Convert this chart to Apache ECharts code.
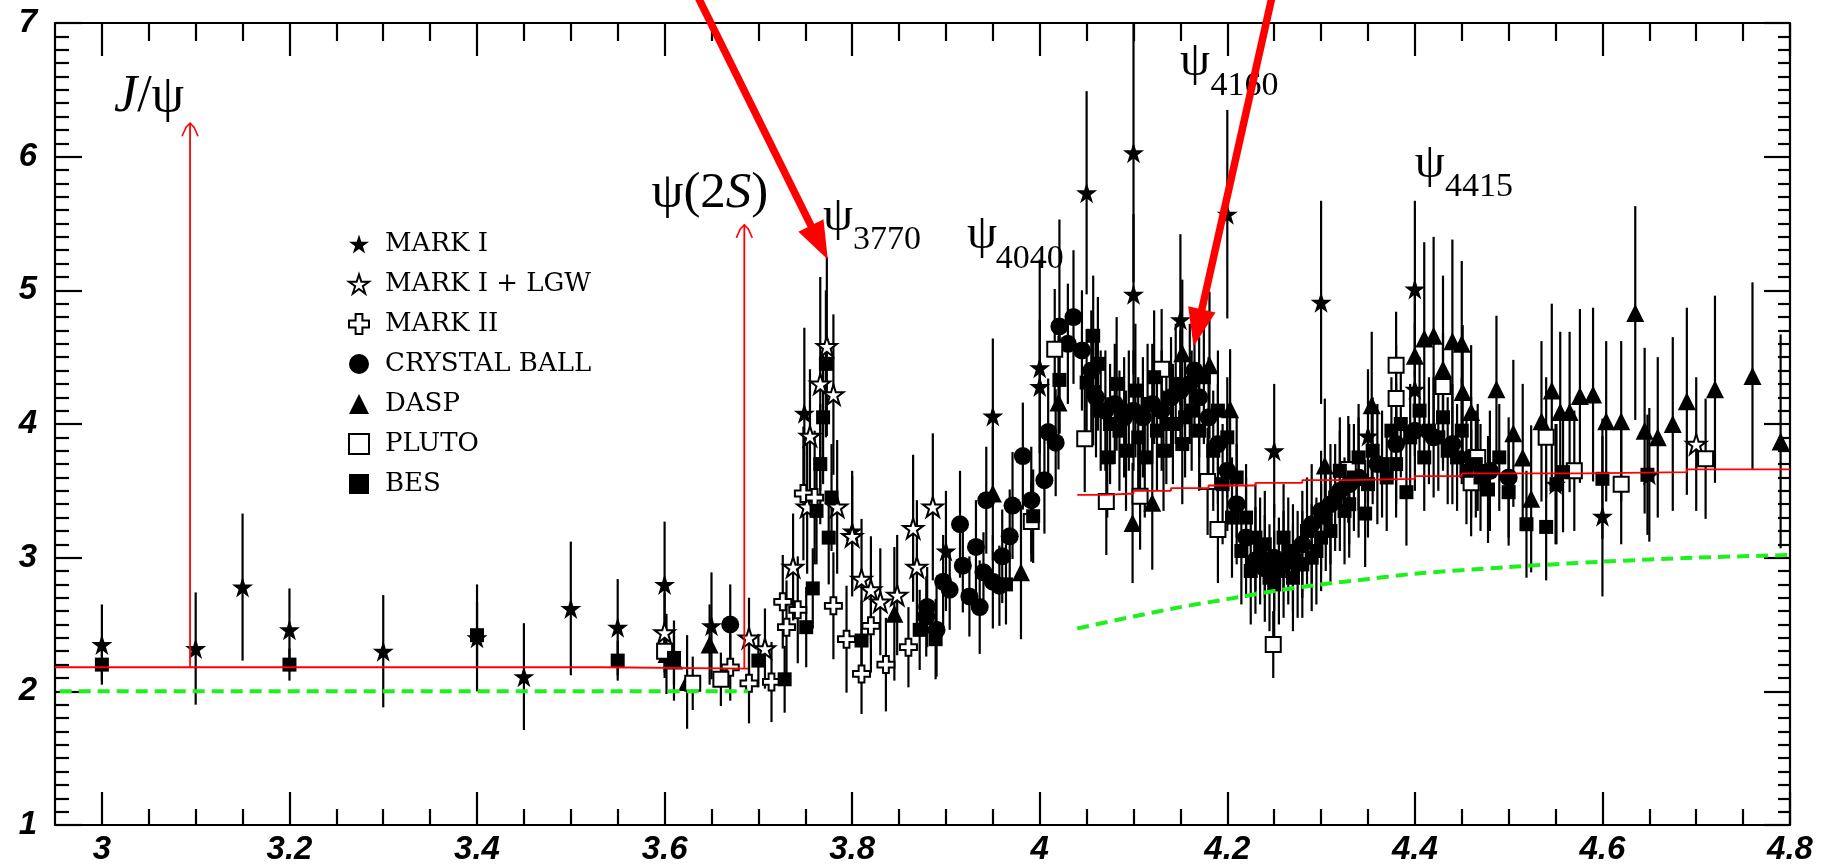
<!DOCTYPE html>
<html><head><meta charset="utf-8">
<script src="https://cdn.jsdelivr.net/npm/echarts@6/dist/echarts.min.js"></script>
<style>html,body{margin:0;padding:0;background:#fff}#c{width:1831px;height:866px}</style>
</head><body><div id="c"></div>
<script>
// ---------- data: [sqrt(s) GeV, R, error] ----------
const MARK_I = [
 [3.00,2.35,0.30],[3.10,2.32,0.42],[3.15,2.78,0.55],[3.20,2.46,0.31],[3.30,2.30,0.42],[3.40,2.40,0.40],[3.45,2.11,0.40],[3.50,2.62,0.50],[3.55,2.48,0.36],[3.60,2.80,0.47],[3.65,2.49,0.40],
 [3.749,4.08,0.64],[3.80,3.20,0.45],[3.90,3.05,0.45],[3.95,4.06,0.58],[4.00,4.42,0.81],[4.00,4.28,0.50],[4.05,5.73,0.76],[4.10,6.03,0.97],[4.10,4.97,0.60],[4.15,4.78,0.64],[4.20,5.57,0.78],[4.25,3.80,0.50],[4.30,4.91,0.76],[4.35,3.91,0.50],[4.40,5.01,0.66],[4.40,4.26,0.50],[4.55,3.55,0.45],[4.60,3.31,0.60],[4.65,3.62,0.50]
];
const MARK_I_LGW = [
 [3.60,2.44,0.30],[3.69,2.40,0.30],[3.707,2.32,0.30],[3.737,2.93,0.40],[3.752,3.38,0.50],[3.755,3.91,0.50],[3.766,4.30,0.80],[3.773,4.58,0.67],[3.78,4.22,0.60],[3.784,3.38,0.50],[3.80,3.16,0.45],[3.81,2.84,0.45],[3.82,2.76,0.40],[3.83,2.67,0.40],[3.848,2.72,0.45],[3.865,3.22,0.55],[3.869,2.93,0.50],[3.886,3.38,0.55],[4.70,3.85,0.50]
];
const MARK_II = [
 [3.67,2.18,0.25],[3.69,2.06,0.30],[3.714,2.07,0.30],[3.726,2.67,0.35],[3.73,2.48,0.35],[3.742,2.61,0.40],[3.748,3.48,0.50],[3.76,3.45,0.50],[3.78,2.64,0.40],[3.794,2.39,0.40],[3.81,2.13,0.30],[3.82,2.49,0.35],[3.836,2.20,0.35],[3.86,2.33,0.30]
];
const CRYSTAL_BALL = [
 [3.67,2.50,0.30],
 [3.879,2.56,0.30],[3.88,2.63,0.30],[3.89,2.46,0.35],[3.897,2.82,0.35],[3.904,2.76,0.30],[3.915,3.25,0.40],[3.918,2.94,0.35],[3.925,2.71,0.30],[3.932,3.08,0.35],[3.936,2.63,0.35],[3.940,2.89,0.30],[3.943,3.43,0.40],[3.95,2.82,0.35],[3.957,2.79,0.30],[3.96,3.01,0.35],[3.968,3.16,0.35],[3.971,3.39,0.40],[3.982,3.76,0.40],[3.991,3.43,0.40],[4.005,3.58,0.40],[4.009,3.94,0.40],[4.017,3.86,0.40],[4.021,4.73,0.80],[4.03,4.60,0.45],[4.036,4.80,0.50],
 [4.045,4.55,0.45],[4.055,4.40,0.45],[4.06,4.20,0.45],[4.07,4.10,0.45],[4.08,4.15,0.45],[4.09,4.05,0.45],[4.10,4.10,0.45],[4.11,4.05,0.45],[4.12,4.15,0.45],[4.13,4.10,0.45],[4.14,4.20,0.45],[4.15,4.25,0.45],[4.16,4.30,0.45],[4.165,4.40,0.45],[4.17,4.20,0.45],[4.18,4.05,0.45],[4.19,3.85,0.45],[4.20,3.65,0.45],[4.21,3.40,0.45],[4.22,3.15,0.45],[4.23,2.98,0.40],[4.24,2.92,0.40],[4.25,3.00,0.40],[4.26,2.95,0.40],[4.27,3.00,0.40],[4.28,3.10,0.40],[4.29,3.25,0.45],[4.30,3.35,0.45],[4.31,3.40,0.45],[4.32,3.50,0.45],[4.33,3.55,0.45],[4.34,3.60,0.45],[4.36,3.70,0.45],[4.38,3.85,0.45],[4.40,3.95,0.45],[4.42,3.90,0.45],[4.44,3.85,0.45],[4.46,3.75,0.45],[4.48,3.65,0.45],[4.50,3.60,0.45]
];
const DASP = [
 [3.602,2.28,0.30],[3.61,2.23,0.30],[3.624,2.07,0.35],[3.648,2.35,0.30],[3.845,2.58,0.50],[3.95,3.48,0.50],[3.98,2.89,0.50],[4.02,4.16,0.50],[4.099,3.26,0.45],[4.12,3.41,0.50],[4.152,4.53,0.55],[4.181,4.44,0.55],[4.203,4.11,0.45],[4.304,3.69,0.50],[4.354,4.14,0.55],[4.40,4.51,0.55],[4.41,4.64,0.72],[4.42,4.66,0.74],[4.43,4.41,0.70],[4.44,4.62,0.76],[4.45,4.60,0.62],[4.451,4.24,0.50],[4.46,4.09,0.50],[4.487,4.26,0.55],[4.505,3.93,0.55],[4.515,3.75,0.55],[4.524,3.44,0.55],[4.535,4.02,0.60],[4.546,4.25,0.65],[4.555,4.09,0.60],[4.565,4.09,0.60],[4.576,4.21,0.65],[4.59,4.22,0.65],[4.604,4.02,0.60],[4.62,4.02,0.60],[4.635,4.83,0.80],[4.645,3.95,0.62],[4.659,3.90,0.60],[4.675,4.00,0.65],[4.69,4.17,0.70],[4.72,4.26,0.70],[4.76,4.36,0.70],[4.79,3.87,0.80]
];
const PLUTO = [
 [3.60,2.30,0.20],[3.63,2.06,0.20],[3.66,2.09,0.20],[3.991,3.27,0.30],[4.016,4.56,0.45],[4.048,3.89,0.40],[4.071,3.42,0.40],[4.107,3.46,0.40],[4.13,4.41,0.45],[4.179,3.57,0.40],[4.19,3.21,0.40],[4.249,2.35,0.25],[4.329,3.66,0.40],[4.38,4.44,0.40],[4.38,4.19,0.40],[4.43,4.28,0.40],[4.46,3.56,0.40],[4.467,3.75,0.40],[4.54,3.90,0.45],[4.57,3.65,0.45],[4.62,3.55,0.45],[4.71,3.74,0.45]
];
const BES = [
 [3.00,2.20,0.12],[3.20,2.20,0.12],[3.40,2.42,0.25],[3.55,2.23,0.15],[3.61,2.25,0.20],[3.70,2.23,0.20],[3.728,2.09,0.25],[3.751,2.48,0.30],[3.758,2.77,0.30],[3.762,3.35,0.40],[3.766,3.70,0.45],[3.769,4.05,0.50],[3.772,4.45,0.55],[3.775,3.15,0.35],[3.778,3.45,0.40],[3.81,2.38,0.30],[3.872,2.46,0.30],[3.889,2.39,0.30],[3.964,2.80,0.30],[3.993,3.31,0.35],[4.021,4.33,0.40],[4.05,4.31,0.40],[4.057,4.66,0.45],[4.057,4.24,0.40],
 [4.062,4.45,0.50],[4.065,4.10,0.45],[4.072,3.75,0.45],[4.075,4.00,0.45],[4.082,4.30,0.50],[4.085,3.95,0.45],[4.092,3.80,0.45],[4.095,4.10,0.45],[4.102,4.25,0.50],[4.105,3.90,0.45],[4.112,3.75,0.45],[4.115,4.15,0.45],[4.122,4.35,0.50],[4.125,3.95,0.45],[4.132,3.80,0.45],[4.135,4.00,0.45],[4.142,4.00,0.45],[4.145,4.30,0.45],[4.152,3.85,0.45],[4.155,4.05,0.45],[4.162,4.10,0.45],[4.17,3.95,0.45],[4.175,4.35,0.50],[4.185,3.80,0.45],[4.19,4.10,0.45],[4.195,3.55,0.45],[4.20,3.90,0.45],[4.205,3.30,0.45],[4.21,3.60,0.45],[4.215,3.05,0.40],[4.22,3.30,0.40],[4.225,2.90,0.40],[4.23,3.15,0.40],[4.235,3.05,0.40],[4.24,3.10,0.40],[4.245,2.85,0.40],[4.25,2.80,0.40],[4.255,2.90,0.40],[4.26,3.15,0.40],[4.265,3.05,0.40],[4.27,2.85,0.40],[4.275,2.95,0.40],[4.28,2.95,0.40],[4.285,3.20,0.40],[4.29,3.00,0.40],[4.295,3.05,0.40],[4.30,3.15,0.40],[4.305,3.30,0.40],[4.31,3.20,0.40],[4.315,3.45,0.40],[4.32,3.65,0.40],[4.325,3.35,0.40],[4.33,3.40,0.40],[4.335,3.60,0.40],[4.34,3.75,0.40],[4.347,3.33,0.40],[4.35,3.55,0.40],[4.355,3.80,0.40],[4.365,3.70,0.40],[4.37,3.60,0.40],[4.375,3.95,0.40],[4.38,3.70,0.40],[4.385,4.00,0.40],[4.391,3.49,0.40],[4.395,3.90,0.40],[4.405,4.10,0.40],[4.41,3.75,0.40],[4.415,3.95,0.40],[4.425,3.90,0.40],[4.43,4.05,0.40],[4.435,3.80,0.40],[4.445,3.75,0.40],[4.45,3.95,0.40],[4.455,3.65,0.40],[4.465,3.70,0.40],[4.47,3.60,0.40],[4.478,3.51,0.40],[4.49,3.75,0.40],[4.50,3.49,0.40],[4.519,3.25,0.40],[4.54,3.23,0.40],[4.551,3.55,0.45],[4.558,3.64,0.45],[4.60,3.59,0.45],[4.648,3.62,0.45]
];
// model curves
const RED_LOW = [[2.95,2.18],[3.534,2.17],[3.689,2.17]];
const RED_HIGH = [[4.04,3.47],[4.07,3.48],[4.10,3.50],[4.14,3.52],[4.18,3.54],[4.23,3.56],[4.28,3.58],[4.33,3.59],[4.40,3.61],[4.45,3.63],[4.58,3.64],[4.69,3.66],[4.80,3.66]];
const GREEN_LOW = [[2.955,2.0],[3.689,2.0]];
const GREEN_HIGH = [[4.04,2.47],[4.10,2.56],[4.15,2.63],[4.20,2.69],[4.25,2.75],[4.30,2.80],[4.35,2.84],[4.40,2.88],[4.50,2.93],[4.60,2.97],[4.70,3.00],[4.80,3.02]];
// axis ticks / labels
const X_LABELS = [3,3.2,3.4,3.6,3.8,4,4.2,4.4,4.6,4.8];
const Y_LABELS = [1,2,3,4,5,6,7];
// annotations (data coordinates)
const RES_ARROWS = [[3.094,2.18,6.25],[3.685,2.17,5.49]];
const THICK_ARROWS = [[3.637,7.174,3.774,5.23],[4.247,7.174,4.164,4.58]];
const PSI_LABELS = [['3770',3.769,5.543,3.801,5.378],['4040',3.9225,5.408,3.953,5.236],['4160',4.1496,6.709,4.182,6.529],['4415',4.400,5.939,4.432,5.774]];
const JPSI_POS = [3.013,6.447];
const PSI2S_POS = [3.586,5.722];

// ---------- styles ----------
const STAR = 'path://M50,0 L61.2,34.5 L97.6,34.5 L68.2,55.9 L79.4,90.5 L50,69.1 L20.6,90.5 L31.8,55.9 L2.4,34.5 L38.8,34.5 Z';
const CROSS = 'path://M33,0 H67 V33 H100 V67 H67 V100 H33 V67 H0 V33 H33 Z';
const DATASETS = [
 ['MARK I', MARK_I, {symbol:STAR, size:21, open:false}],
 ['MARK I + LGW', MARK_I_LGW, {symbol:STAR, size:20, open:true}],
 ['MARK II', MARK_II, {symbol:CROSS, size:17, open:true}],
 ['CRYSTAL BALL', CRYSTAL_BALL, {symbol:'circle', size:18, open:false}],
 ['DASP', DASP, {symbol:'triangle', size:18, open:false}],
 ['PLUTO', PLUTO, {symbol:'rect', size:15, open:true}],
 ['BES', BES, {symbol:'rect', size:14, open:false}]
];

const chart = echarts.init(document.getElementById('c'), null, {renderer:'canvas'});

function errRender(params, api){
  const x = api.value(0);
  const p1 = api.coord([x, api.value(1)]), p2 = api.coord([x, api.value(2)]);
  return {type:'line', shape:{x1:p1[0], y1:p1[1], x2:p2[0], y2:p2[1]}, style:{stroke:'#000', lineWidth:2.2}};
}

const series = [];
DATASETS.forEach(([name, arr]) => {
  series.push({type:'custom', name:name+' (err)', xAxisIndex:0, yAxisIndex:0, silent:true, z:2,
    renderItem: errRender, encode:{x:0, y:[1,2]},
    data: arr.map(d => [d[0], Math.max(1, d[1]-d[2]), Math.min(7, d[1]+d[2])])});
});
DATASETS.forEach(([name, arr, s]) => {
  series.push({type:'scatter', name, xAxisIndex:0, yAxisIndex:0, z:3,
    data: arr.map(d => [d[0], d[1]]), symbol:s.symbol, symbolSize:s.size,
    itemStyle:{color: s.open ? '#fff' : '#000', borderColor:'#000', borderWidth: s.open ? 2 : 0, opacity:1}});
});
const redStyle = {color:'#ff0000', width:1.8};
const greenStyle = {color:'#1ef01e', width:4, type:[12,7]};
series.push({type:'line', name:'red-low', data:RED_LOW, step:'end', symbol:'none', lineStyle:redStyle, z:5, silent:true});
series.push({type:'line', name:'red-high', data:RED_HIGH, step:'end', symbol:'none', lineStyle:redStyle, z:5, silent:true});
series.push({type:'line', name:'green-low', data:GREEN_LOW, symbol:'none', lineStyle:greenStyle, z:5, silent:true});
series.push({type:'line', name:'green-high', data:GREEN_HIGH, smooth:0.3, symbol:'none', lineStyle:greenStyle, z:5, silent:true});

const xMinor = [];
for (let k = 60; k <= 95; k++) if (k % 4 !== 0) xMinor.push(+(k*0.05).toFixed(2));

const lbl = {fontFamily:'Liberation Sans, Arial', fontWeight:'bold', fontStyle:'italic', fontSize:33, color:'#000'};
const axLine = {show:true, lineStyle:{color:'#000', width:2.2}};
function xAx(pos, major, showLabel){
  return {type:'value', gridIndex:0, position:pos, min:2.95, max:4.8,
    axisLine: major ? axLine : {show:false},
    splitLine:{show:false},
    axisTick:{show:true, inside:true, length: major ? 33 : (pos==='top'?18:16), customValues: major ? X_LABELS : xMinor, lineStyle:{color:'#000', width:2.2}},
    axisLabel: showLabel ? Object.assign({show:true, margin:8, customValues:X_LABELS, formatter: v => String(+v.toFixed(1))}, lbl) : {show:false}};
}
function yAx(pos, showLabel){
  return {type:'value', gridIndex:0, position:pos, min:1, max:7, interval:1,
    axisLine:axLine, splitLine:{show:false},
    axisTick:{show:true, inside:true, length: pos==='left'?27:26, lineStyle:{color:'#000', width:2.2}},
    minorTick:{show:true, splitNumber:10, length: pos==='left'?14:12, lineStyle:{color:'#000', width:2.2}},
    axisLabel: showLabel ? Object.assign({show:true, margin:18}, lbl) : {show:false}};
}

const option = {
  animation:false,
  backgroundColor:'#fff',
  grid:{left:55, right:41, top:23, bottom:40, containLabel:false},
  xAxis:[xAx('bottom', true, true), xAx('bottom', false, false), xAx('top', true, false), xAx('top', false, false)],
  yAxis:[yAx('left', true), yAx('right', false)],
  legend:{show:true, orient:'vertical', left:343, top:226, itemWidth:20, itemHeight:20, itemGap:14, selectedMode:false,
    data: DATASETS.map(d => d[0]),
    textStyle:{fontFamily:'DejaVu Serif', fontSize:26, color:'#000', padding:[0,0,0,11]}},
  series
};
chart.setOption(option);

// ---------- annotations ----------
const px = (x, y) => chart.convertToPixel({xAxisIndex:0, yAxisIndex:0}, [x, y]);
const g = [];
const RED = '#ff0000';
RES_ARROWS.forEach(([x, y0, y1]) => {
  const a = px(x, y0), b = px(x, y1);
  g.push({type:'line', z:50, shape:{x1:a[0], y1:a[1], x2:b[0], y2:b[1]}, style:{stroke:RED, lineWidth:1.8}});
  g.push({type:'polyline', z:50, shape:{points:[[b[0]-8,b[1]+13],[b[0]-4,b[1]+4],[b[0],b[1]],[b[0]+4,b[1]+4],[b[0]+8,b[1]+13]]}, style:{stroke:RED, lineWidth:1.6, fill:null}});
});
THICK_ARROWS.forEach(([x0, y0, x1, y1]) => {
  const a = px(x0, y0), t = px(x1, y1);
  const dx = t[0]-a[0], dy = t[1]-a[1], len = Math.hypot(dx, dy), ux = dx/len, uy = dy/len;
  const s = [t[0]-ux*len*1.1, t[1]-uy*len*1.1];
  const L = 38, W = 14;
  const base = [t[0]-ux*L, t[1]-uy*L];
  g.push({type:'line', z:60, shape:{x1:s[0], y1:s[1], x2:base[0]+ux*4, y2:base[1]+uy*4}, style:{stroke:RED, lineWidth:7.5}});
  g.push({type:'polygon', z:60, shape:{points:[[t[0],t[1]],[base[0]-uy*W, base[1]+ux*W],[base[0]+uy*W, base[1]-ux*W]]}, style:{fill:RED}});
});
const serif = 'Liberation Serif, Times New Roman, serif';
PSI_LABELS.forEach(([sub, px0, py0, sx, sy]) => {
  const p = px(px0, py0), q = px(sx, sy);
  g.push({type:'text', z:40, x:p[0], y:p[1], style:{text:'ψ', fontFamily:serif, fontSize:48, fill:'#000', align:'left', verticalAlign:'middle'}});
  g.push({type:'text', z:40, x:q[0], y:q[1], style:{text:sub, fontFamily:serif, fontSize:34, fill:'#000', align:'left', verticalAlign:'middle'}});
});
{
  const p = px(JPSI_POS[0], JPSI_POS[1]);
  g.push({type:'text', z:40, x:p[0], y:p[1], style:{text:'{i|J}{a|/ψ}', align:'left', verticalAlign:'middle',
    rich:{i:{fontFamily:serif, fontStyle:'italic', fontSize:52, fill:'#000'}, a:{fontFamily:serif, fontSize:52, fill:'#000'}}}});
  const q = px(PSI2S_POS[0], PSI2S_POS[1]);
  g.push({type:'text', z:40, x:q[0], y:q[1], style:{text:'{a|ψ(2}{i|S}{a|)}', align:'left', verticalAlign:'middle',
    rich:{i:{fontFamily:serif, fontStyle:'italic', fontSize:51, fill:'#000'}, a:{fontFamily:serif, fontSize:51, fill:'#000'}}}});
}
chart.setOption({graphic:g});
</script></body></html>
